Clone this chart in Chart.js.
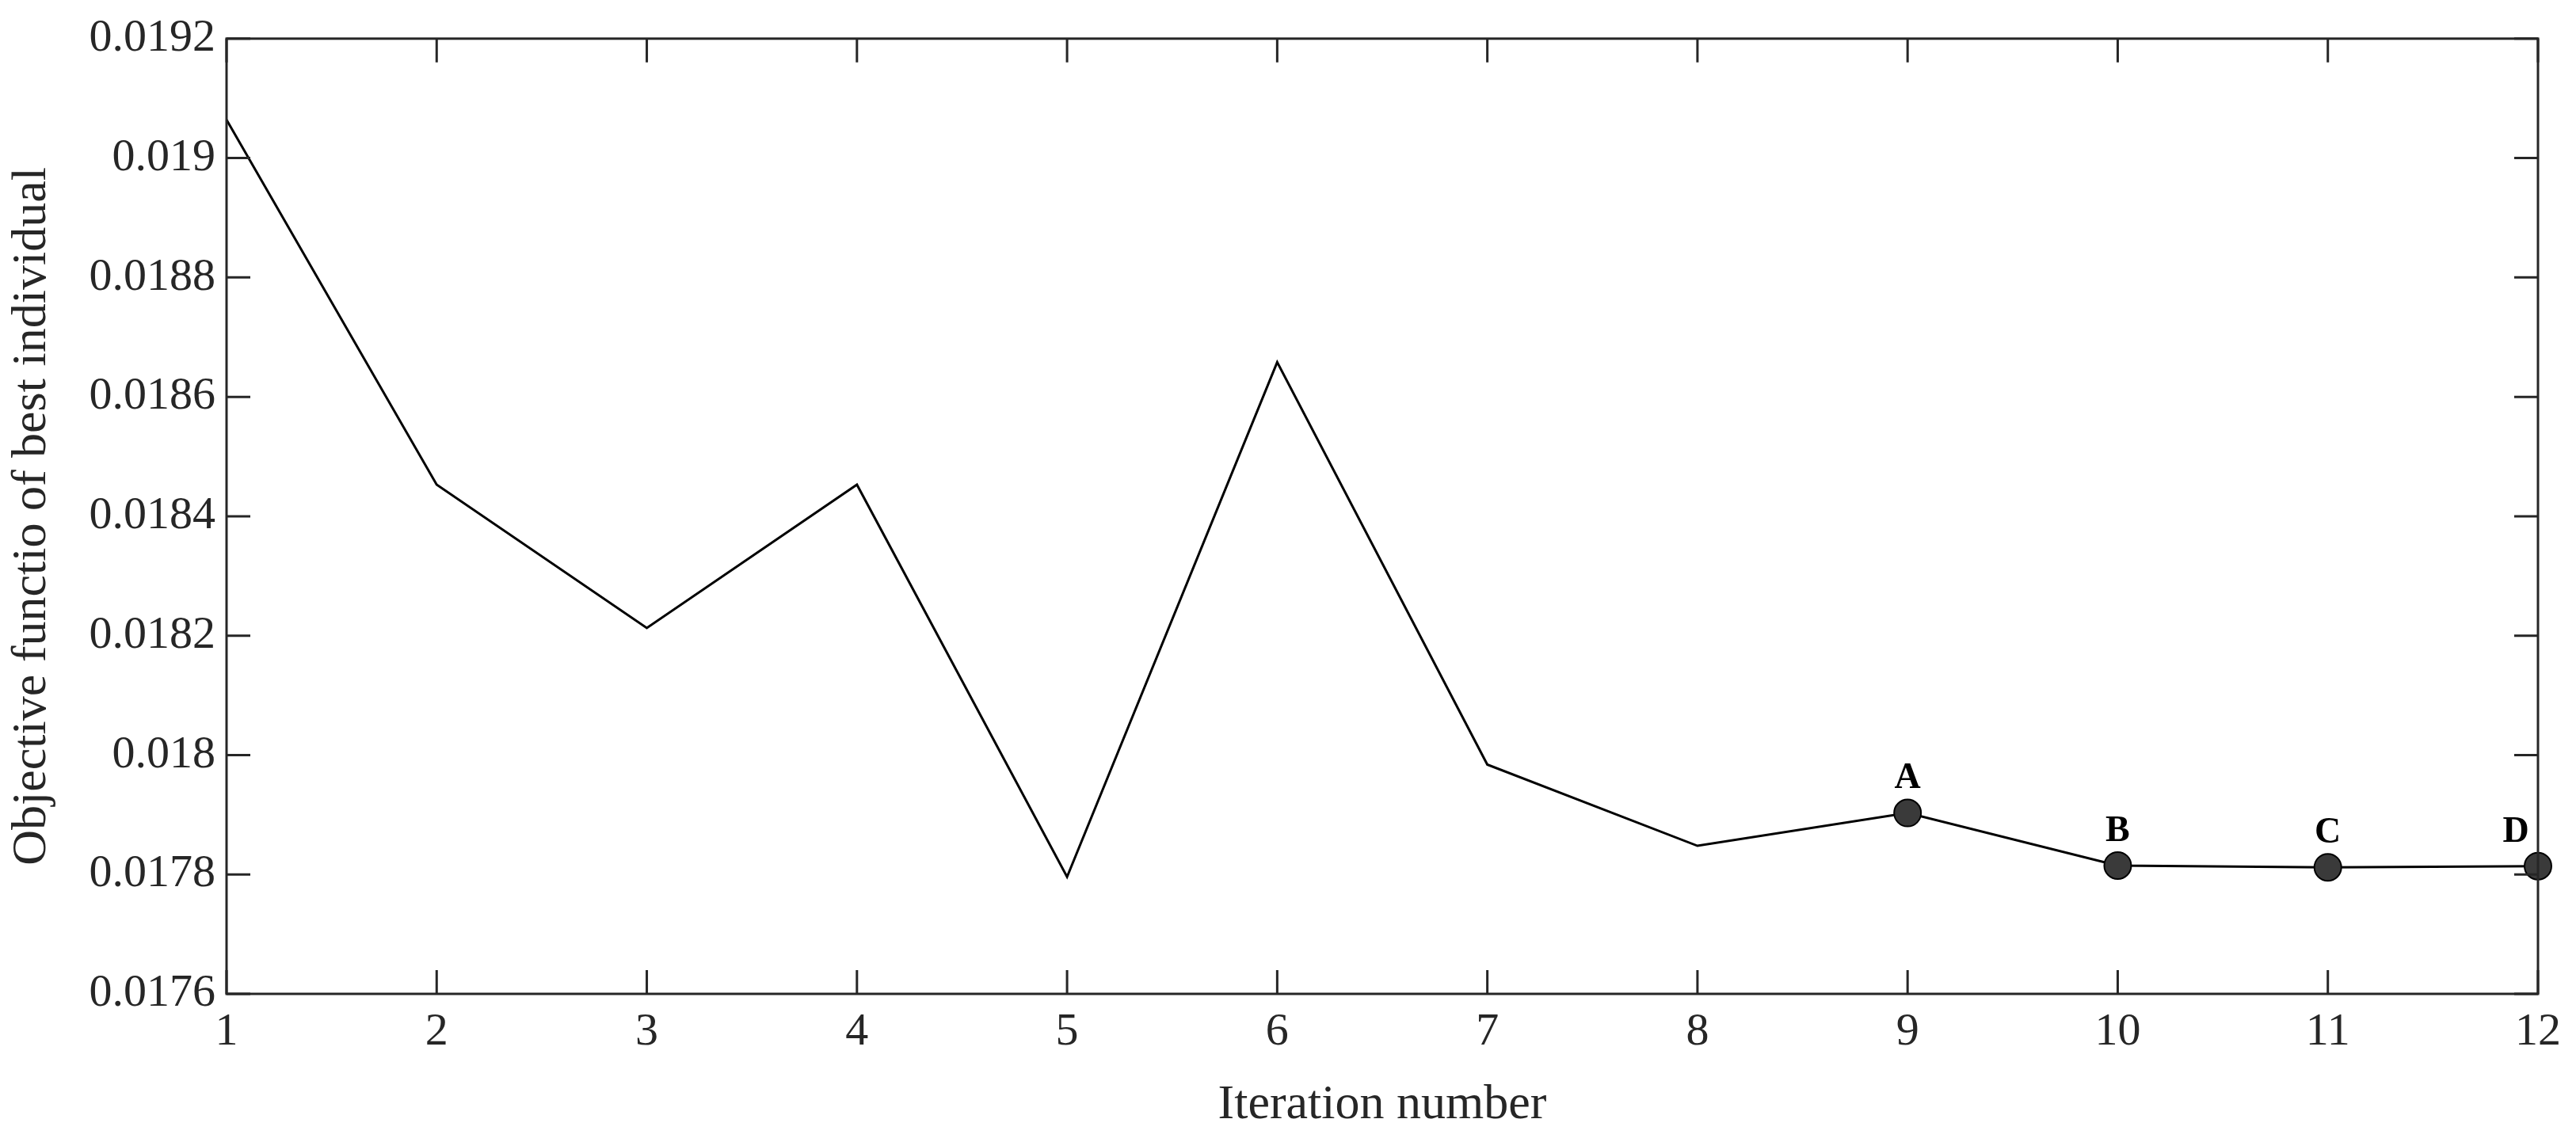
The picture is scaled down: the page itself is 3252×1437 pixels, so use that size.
<!DOCTYPE html>
<html lang="en">
<head>
<meta charset="UTF-8">
<title>Objective function of best individual</title>
<script src="https://cdn.jsdelivr.net/npm/chart.js"></script>
<style>
    html, body { margin: 0; padding: 0; background: #fff; }
    #wrap { width: 3252px; height: 1437px; }
</style>
</head>
<body>
<div id="wrap"><canvas id="objChart"></canvas></div>
<script>
const iterations = [1, 2, 3, 4, 5, 6, 7, 8, 9, 10, 11, 12];
const objective = [0.019064, 0.018453, 0.018213, 0.018453, 0.017796, 0.018658, 0.017984, 0.017848, 0.017903, 0.017815, 0.017812, 0.017814];
const markLabels = ['', '', '', '', '', '', '', '', 'A', 'B', 'C', 'D'];
const yTicks = [0.0176, 0.0178, 0.018, 0.0182, 0.0184, 0.0186, 0.0188, 0.019, 0.0192];

const serif = '"Liberation Serif", "Times New Roman", serif';

// MATLAB style box with inward ticks on all sides
const boxPlugin = {
    id: 'box',
    afterDatasetsDraw(chart) {
        const { ctx, chartArea: a, scales: { x, y } } = chart;
        ctx.save();
        ctx.strokeStyle = '#262626';
        ctx.lineWidth = 3;
        ctx.strokeRect(a.left, a.top, a.right - a.left, a.bottom - a.top);
        const t = 30;
        ctx.beginPath();
        iterations.forEach(v => {
            const px = x.getPixelForValue(v);
            ctx.moveTo(px, a.bottom); ctx.lineTo(px, a.bottom - t);
            ctx.moveTo(px, a.top); ctx.lineTo(px, a.top + t);
        });
        yTicks.forEach(v => {
            const py = y.getPixelForValue(v);
            ctx.moveTo(a.left, py); ctx.lineTo(a.left + t, py);
            ctx.moveTo(a.right, py); ctx.lineTo(a.right - t, py);
        });
        ctx.stroke();

        // point letters
        const meta = chart.getDatasetMeta(0);
        ctx.fillStyle = '#000';
        ctx.font = 'bold 46px ' + serif;
        ctx.textAlign = 'center';
        ctx.textBaseline = 'bottom';
        meta.data.forEach((pt, i) => {
            if (markLabels[i]) ctx.fillText(markLabels[i], pt.x - (i === 11 ? 28 : 0), pt.y - 20);
        });
        ctx.restore();
    }
};

new Chart(document.getElementById('objChart'), {
    type: 'line',
    data: {
        labels: iterations,
        datasets: [{
            data: objective.map((v, i) => ({ x: iterations[i], y: v })),
            borderColor: '#000',
            borderWidth: 3,
            tension: 0,
            pointRadius: objective.map((v, i) => markLabels[i] ? 17 : 0),
            pointBackgroundColor: '#3a3a3a',
            pointBorderColor: '#000',
            pointBorderWidth: 2,
            clip: false
        }]
    },
    options: {
        responsive: true,
        maintainAspectRatio: false,
        animation: false,
        layout: { padding: { top: 37, right: 48, left: 0, bottom: 0 } },
        plugins: { legend: { display: false }, tooltip: { enabled: false } },
        scales: {
            x: {
                type: 'linear',
                min: 1,
                max: 12,
                grid: { display: false, drawTicks: false },
                border: { display: false },
                afterFit(s) { s.height = 182; },
                ticks: {
                    stepSize: 1,
                    color: '#262626',
                    padding: 14,
                    font: { family: serif, size: 58 }
                },
                title: {
                    display: true,
                    text: 'Iteration number',
                    color: '#262626',
                    padding: { top: 0 },
                    font: { family: serif, size: 62 }
                }
            },
            y: {
                min: 0.0176,
                max: 0.0192,
                grid: { display: false, drawTicks: false },
                border: { display: false },
                afterFit(s) { s.width = 286; },
                afterBuildTicks(s) { s.ticks = yTicks.map(v => ({ value: v })); },
                ticks: {
                    color: '#262626',
                    padding: 14,
                    font: { family: serif, size: 58 },
                    callback: v => String(Number(v.toFixed(4)))
                },
                title: {
                    display: true,
                    text: 'Objective functio of best individual',
                    color: '#262626',
                    padding: { bottom: 4 },
                    font: { family: serif, size: 62 }
                }
            }
        }
    },
    plugins: [boxPlugin]
});
</script>
</body>
</html>
